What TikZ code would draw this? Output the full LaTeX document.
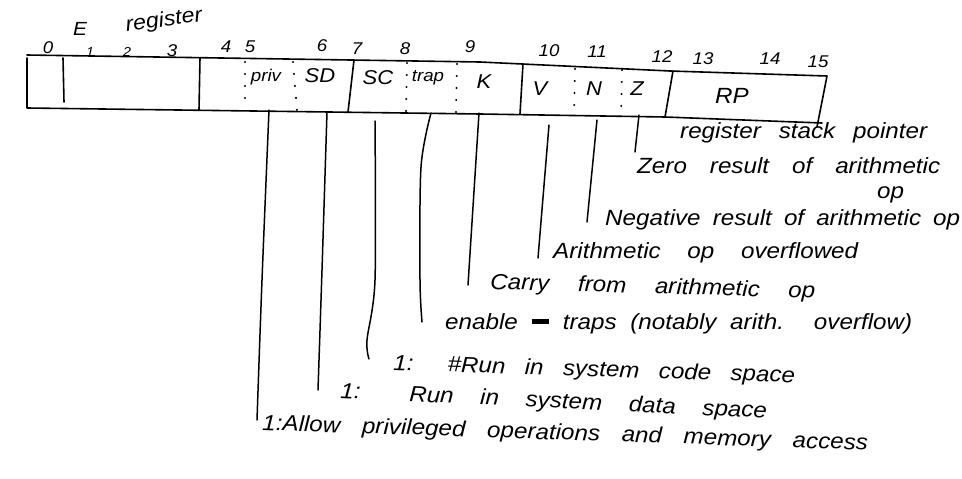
\documentclass[tikz,border=0pt]{standalone}
\usepackage{fontspec}
\setmainfont{Liberation Sans}
\newfontfamily\handfont{Liberation Sans}[FakeStretch=1.1]
% a line of text spread to a given width (in pt) by widening its word gaps
\newcommand\spread[2]{\makebox[#1pt][s]{#2}}
\begin{document}
\begin{tikzpicture}[x=1pt,y=1pt,line cap=round,line join=round,
  pen/.style={line width=1.6pt},
  dotline/.style={line width=2.4pt,dash pattern=on 0pt off 12pt},
  lead/.style={line width=1.5pt},
  bitno/.style={inner sep=0pt,font=\handfont\itshape\fontsize{17}{17}\selectfont},
  bitsmall/.style={inner sep=0pt,font=\handfont\itshape\fontsize{13}{13}\selectfont},
  fld/.style={inner sep=0pt,font=\handfont\itshape\fontsize{20}{20}\selectfont},
  fldsmall/.style={inner sep=0pt,font=\handfont\itshape\fontsize{17}{17}\selectfont},
  note/.style={inner sep=0pt,anchor=base west,font=\handfont\itshape\fontsize{22}{22}\selectfont}]

\fill[white] (0,0) rectangle (962,-479);
\useasboundingbox (0,0) rectangle (962,-479);

% ---- bit numbers above the register ----
\node[bitno]    (b0)  at (48,-48)  {0};
\node[bitsmall] (b1)  at (90,-52)  {1};
\node[bitsmall] (b2)  at (127,-52) {2};
\node[bitno]    (b3)  at (172,-51) {3};
\node[bitno]    (b4)  at (226,-47) {4};
\node[bitno]    (b5)  at (250,-47) {5};
\node[bitno]    (b6)  at (322,-46) {6};
\node[bitno]    (b7)  at (357,-49) {7};
\node[bitno]    (b8)  at (405,-49) {8};
\node[bitno]    (b9)  at (470,-47) {9};
\node[bitno]    (b10) at (549,-51) {10};
\node[bitno]    (b11) at (597,-52) {11};
\node[bitno]    (b12) at (662,-57) {12};
\node[bitno]    (b13) at (703,-59) {13};
\node[bitno]    (b14) at (770,-59) {14};
\node[bitno]    (b15) at (818,-62) {15};

\node[inner sep=0pt,font=\handfont\itshape\fontsize{19}{19}\selectfont] (ename) at (80,-29) {E};
\node[inner sep=0pt,rotate=8,font=\handfont\itshape\fontsize{21}{21}\selectfont] (regword) at (164,-21) {register};

% ---- register outline ----
\draw[pen] (27,-55) -- (480,-62) -- (670,-71) -- (827,-76) -- (817,-127);
\draw[pen] (27,-58) -- (27,-108) -- (480,-114) -- (665,-117) -- (822,-123);

% field boundaries: solid between groups, dotted between single bits
\draw[pen] (63,-58) -- (64,-102);
\draw[pen] (200,-58) -- (199,-110);
\draw[dotline] (245,-62) -- (245,-110);
\draw[dotline] (293,-62) -- (297,-111);
\draw[pen] (354,-60) -- (348,-112);
\draw[dotline] (407,-63) -- (406,-113);
\draw[dotline] (457,-64) -- (456,-113);
\draw[pen] (523,-64) -- (520,-114);
\draw[dotline] (575,-69) -- (574,-115);
\draw[dotline] (622,-70) -- (621,-116);
\draw[pen] (673,-71) -- (665,-117);

% ---- field names ----
\node[fldsmall] (priv) at (266,-77) {priv};
\node[fld]      (sd)   at (320,-76) {SD};
\node[fld]      (sc)   at (378,-78) {SC};
\node[fldsmall] (trap) at (428,-78) {trap};
\node[fld]      (k)    at (484,-82) {K};
\node[fld]      (v)    at (540,-89) {V};
\node[fld]      (n)    at (594,-89) {N};
\node[fld]      (z)    at (637,-89) {Z};
\node[fld,font=\handfont\itshape\fontsize{22}{22}\selectfont] (rp) at (732,-96) {RP};

% ---- descriptions ----
\node[note] (regsp)  at (680,-138) {\spread{247}{register stack pointer}};
\node[note] (zero)   at (637,-173) {\spread{303}{Zero result of arithmetic}};
\node[note] (zeroop) at (877,-198) {op};
\node[note] (neg)    at (605,-225) {\spread{355}{Negative result of arithmetic op}};
\node[note] (ovf)    at (553,-258) {\spread{305}{Arithmetic op overflowed}};
\node[note,rotate=-1.6] (carry) at (490,-289) {\spread{325}{Carry from arithmetic op}};
\node[note] (traps)  at (445,-329) {\spread{467}{enable \rule[0.25em]{0.8em}{0.22em} traps (notably arith. overflow)}};
\node[note,rotate=-1.8] (codesp) at (393,-370) {\spread{402}{1: \#Run in system code space}};
\node[note,rotate=-2.7] (datasp) at (340,-398) {\spread{427}{1: Run in system data space}};
\node[note,rotate=-1.9] (allow)  at (262,-430) {\spread{606}{1:Allow privileged operations and memory access}};

% ---- leader lines from each field down to its description ----
\coordinate (privT) at (269,-110);  \coordinate (privE) at (257,-420);
\coordinate (sdT)   at (327,-112);  \coordinate (sdE)   at (318,-390);
\coordinate (scT)   at (375,-121);  \coordinate (scE)   at (369,-359);
\coordinate (trapT) at (431,-113);  \coordinate (trapE) at (422,-322);
\coordinate (kT)    at (479,-113);  \coordinate (kE)    at (468,-285);
\coordinate (vT)    at (549,-125);  \coordinate (vE)    at (538,-258);
\coordinate (nT)    at (597,-120);  \coordinate (nE)    at (587,-222);
\coordinate (zT)    at (639,-115);  \coordinate (zE)    at (635,-152);

\draw[lead] plot[smooth] coordinates {(privT) (262,-280) (privE)};
\draw[lead] plot[smooth] coordinates {(sdT) (322,-270) (sdE)};
\draw[lead] plot[smooth] coordinates {(scT) (375,-280) (367,-340) (scE)};
\draw[lead] plot[smooth] coordinates {(trapT) (421,-167) (420,-280) (trapE)};
\draw[lead] (kT) -- (kE);
\draw[lead] (vT) -- (vE);
\draw[lead] (nT) -- (nE);
\draw[lead] (zT) -- (zE);
\end{tikzpicture}
\end{document}
